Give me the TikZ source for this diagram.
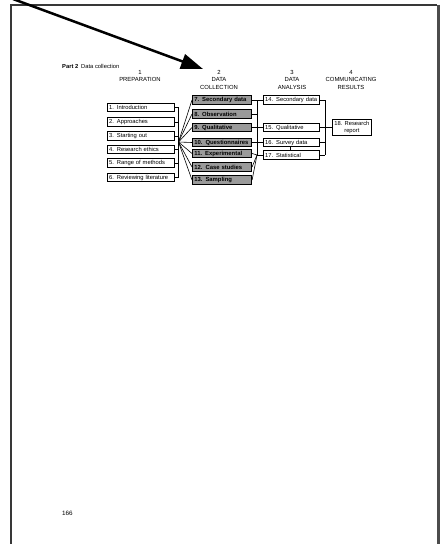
\documentclass[tikz,border=0pt]{standalone}
\usepackage{fontspec}
\setmainfont{Liberation Sans}
\usetikzlibrary{arrows.meta}
\definecolor{boxgray}{HTML}{9A9A9A}
\definecolor{framegray}{HTML}{383838}
\begin{document}
\begin{tikzpicture}[x=1pt,y=-1pt,
  wbox/.style={draw=black, line width=0.8pt, fill=white, anchor=west,
    inner xsep=1.8pt, inner ysep=0pt, minimum height=8.5pt, align=left,
    font=\fontsize{5.8}{6.6}\selectfont},
  gbox/.style={draw=black, line width=1.1pt, fill=boxgray, anchor=west,
    inner xsep=1.8pt, inner ysep=0pt, minimum height=8.5pt, align=left,
    text width=55.4pt, font=\bfseries\fontsize{5.9}{6.6}\selectfont},
  link/.style={draw=black, line width=0.6pt},
  head/.style={align=center, anchor=north, inner sep=0pt,
    font=\fontsize{5.9}{7.5}\selectfont},
  pagetext/.style={anchor=west, inner sep=0pt}
]
\useasboundingbox (0,0) rectangle (440,544);

% page frame
\draw[framegray, line width=1.1pt] (11,548) -- (11,5) -- (437,5);
\draw[framegray!90, line width=3pt] (438.5,4.5) -- (438.5,548);

% pointer arrow
\coordinate (arrowstart) at (13,-1);
\coordinate (arrowtip) at (203,69);
\draw[line width=2.5pt, -{Triangle[length=22pt,width=15pt]}] (arrowstart) -- (arrowtip);

% page header and footer
\node[pagetext, font=\fontsize{5.8}{6.6}\selectfont] (parthead) at (62,66)
  {\textbf{Part 2}\enspace Data collection};
\node[pagetext, font=\fontsize{6.3}{7}\selectfont] (pagenum) at (62,513) {166};

% column headings
\node[head] (h1) at (140,70) {1\\PREPARATION};
\node[head] (h2) at (219,70) {2\\DATA\\COLLECTION};
\node[head] (h3) at (292,70) {3\\DATA\\ANALYSIS};
\node[head] (h4) at (351,70) {4\\COMMUNICATING\\RESULTS};

% column 1: preparation
\begin{scope}[every node/.append style={wbox, text width=63.4pt}]
\node (l1) at (107,107.5) {1. Introduction};
\node (l2) at (107,122) {2. Approaches};
\node (l3) at (107,136) {3. Starting out};
\node (l4) at (107,149.5) {4. Research ethics};
\node (l5) at (107,163) {5. Range of methods};
\node (l6) at (107,177.5) {6. Reviewing literature};
\end{scope}

% column 2: data collection
\node[gbox] (g7)  at (192,100)   {7. Secondary data};
\node[gbox] (g8)  at (192,114)   {8. Observation};
\node[gbox] (g9)  at (192,127.5) {9. Qualitative};
\node[gbox] (g10) at (192,142.5) {10. Questionnaires};
\node[gbox] (g11) at (192,153.5) {11. Experimental};
\node[gbox] (g12) at (192,167)   {12. Case studies};
\node[gbox] (g13) at (192,180)   {13. Sampling};

% column 3: data analysis
\begin{scope}[every node/.append style={wbox, text width=52.4pt}]
\node (t14) at (263,100)   {14. Secondary data};
\node (t15) at (263,127.5) {15. Qualitative};
\node (t16) at (263,142.5) {16. Survey data};
\node (t17) at (263,155)   {17. Statistical};
\end{scope}

% column 4: communicating results
\node[wbox, align=center, minimum width=39pt, minimum height=16pt,
      font=\fontsize{5.8}{6.8}\selectfont] (r18) at (332,127.5)
  {18. Research\\report};

% bracket joining column 1 and fan into column 2
\coordinate (lbar) at (178.5,0);
\coordinate (fan) at (178.5,142);
\foreach \b in {l1,l2,l3,l4,l5,l6}
  \draw[link] (\b.east) -- (\b.east -| lbar);
\draw[link] (l1.east -| lbar) -- (l6.east -| lbar);
\foreach \g in {g7,g8,g9,g10,g11,g12,g13}
  \draw[link] (fan) -- (\g.west);

% links from column 2 to column 3
\coordinate (gbar) at (257,0);
\coordinate (jn) at (257,155);
\draw[link] (g7.east) -- (t14.west);
\draw[link] (g8.east) -- (g8.east -| gbar);
\draw[link] (g9.east) -- (t15.west);
\draw[link] (g10.east) -- (t16.west);
\foreach \g in {g11,g12,g13}
  \draw[link] (\g.east) -- (jn);
\draw[link] (jn) -- (t17.west);
\draw[link] (g7.east -| gbar) -- (jn);

% tick between survey data and statistical
\coordinate (tick) at (290,0);
\draw[link] (t16.south -| tick) -- (t17.north -| tick);

% bracket joining column 3 to the report
\coordinate (rbar) at (325,0);
\foreach \t in {t14,t15,t16,t17}
  \draw[link] (\t.east) -- (\t.east -| rbar);
\draw[link] (t14.east -| rbar) -- (t17.east -| rbar);
\draw[link] (t15.east -| rbar) -- (r18.west);
\end{tikzpicture}
\end{document}
